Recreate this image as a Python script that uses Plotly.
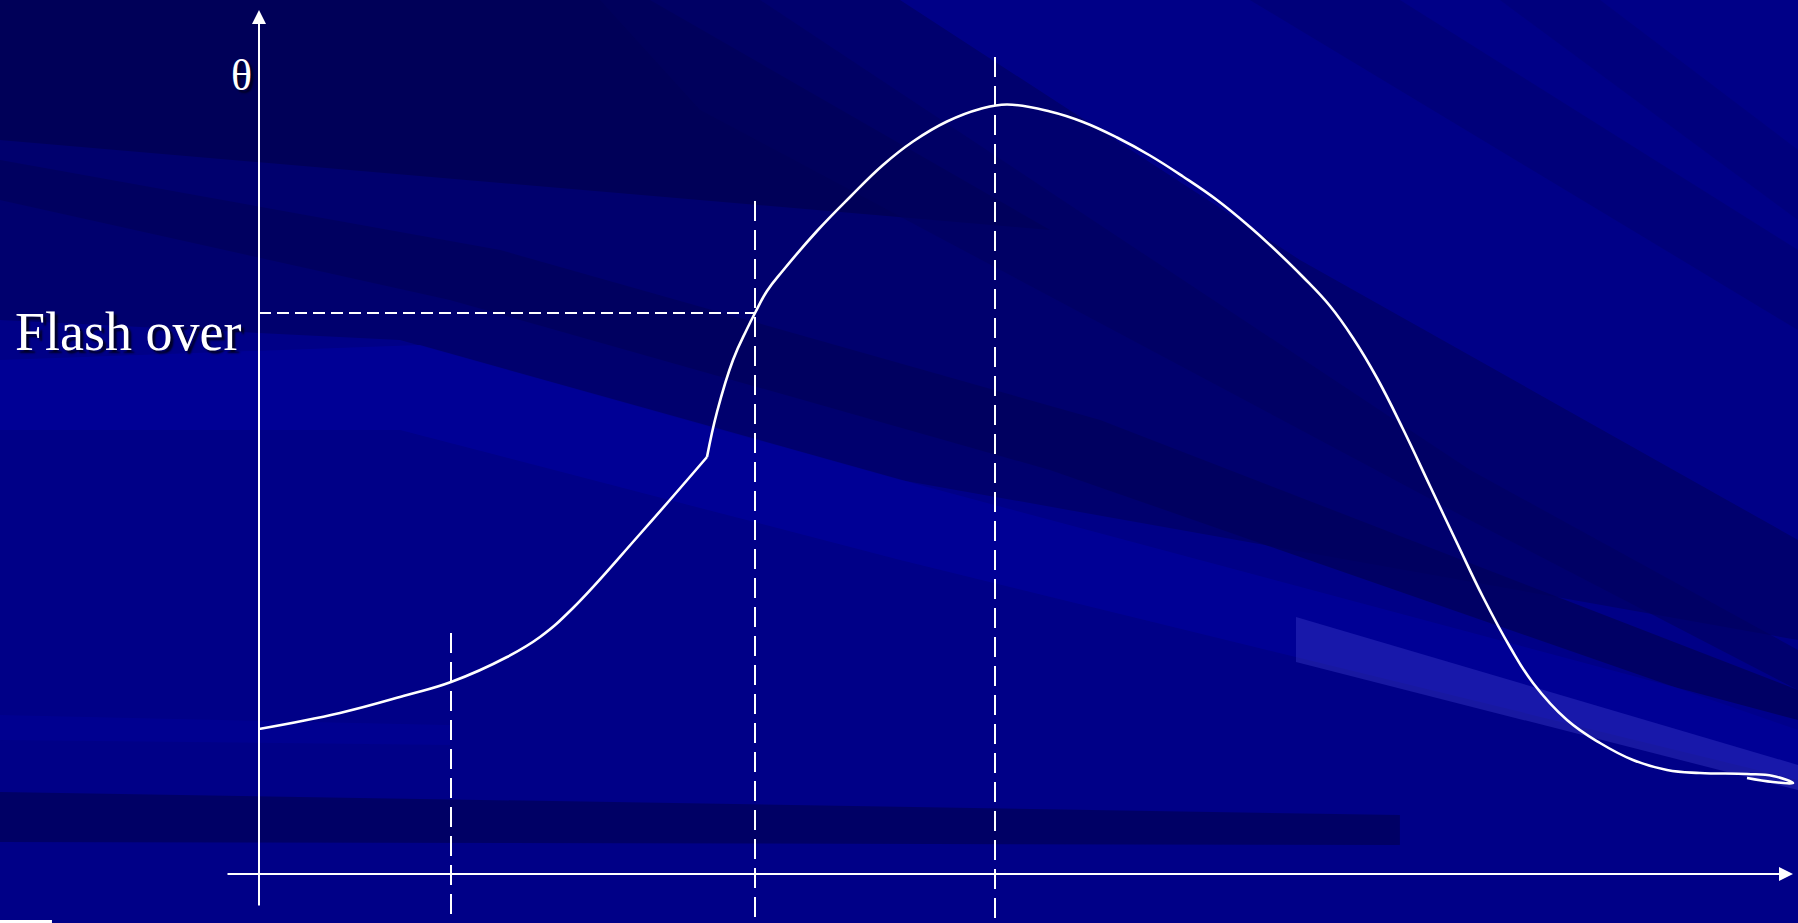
import plotly.graph_objects as go

# ---------------- data (time t, temperature theta; arbitrary units) ----------------
growth_t = [0.0, 8.1, 14.8, 19.2, 24.8, 28.1, 31.4, 38.1, 44.8]
growth_theta = [14.5, 16.1, 17.9, 19.2, 21.7, 23.7, 26.6, 34.0, 41.7]

fire_t = [44.8, 45.8, 47.4, 48.8, 49.6, 50.8, 52.4, 55.8, 59.1, 62.4, 65.4, 68.8,
          72.1, 74.8, 79.1, 82.4, 85.8, 89.1, 92.4, 95.8, 99.1, 101.1, 104.4, 107.1,
          109.4, 111.8, 114.4, 117.1, 119.8, 122.4, 125.1, 127.4, 130.8, 134.1, 137.4,
          140.8, 144.1, 148.8, 151.4, 153.4, 151.4, 148.8]
fire_theta = [41.7, 46.2, 51.4, 54.5, 56.1, 58.3, 60.35, 64.3, 67.7, 70.9, 73.25, 75.25,
              76.5, 76.95, 76.25, 75.2, 73.65, 71.85, 69.75, 67.4, 64.7, 62.9, 59.7, 56.8,
              53.6, 49.6, 44.5, 38.8, 33.1, 27.7, 22.7, 19.1, 15.4, 13.1, 11.4,
              10.4, 10.1, 10.0, 9.8, 9.1, 9.2, 9.6]

phase_t = [19.2, 49.6, 73.6]          # vertical phase boundaries
phase_top = [24.1, 67.3, 81.7]        # top of each dashed boundary
flashover_theta = 56.1                # flash-over temperature level
flashover_t = 49.6

x_range = [-25.9, 153.9]
y_range = [-4.9, 87.4]
y_axis_span = [-3.3, 86.4]
x_axis_span = [-3.3, 153.4]

W, H = 1798, 923


def px_path(pts):
    s = ""
    for i, (x, y) in enumerate(pts):
        s += ("M" if i == 0 else "L") + f"{x / W:.4f},{1 - y / H:.4f} "
    return s + "Z"


fig = go.Figure()

# ---------------- decorative slide background ----------------
bg = [
    ([(0, 0), (W, 0), (W, H), (0, H)], "rgb(0,0,135)", 1),
    ([(0, 0), (900, 0), (1300, 260), (W, 540), (W, 640), (900, 480), (400, 340), (0, 320)], "rgb(0,0,110)", 1),
    ([(0, 0), (650, 0), (1050, 230), (700, 200), (0, 140)], "rgb(0,0,88)", 1),
    ([(0, 160), (500, 250), (1100, 420), (W, 690), (W, 730), (1050, 470), (450, 300), (0, 200)], "rgb(0,0,92)", 0.8),
    ([(600, 0), (760, 0), (1470, 470), (W, 650), (W, 690), (1470, 520), (700, 110)], "rgb(0,0,95)", 0.6),
    ([(0, 360), (420, 345), (920, 485), (W, 720), (W, 780), (900, 560), (400, 430), (0, 430)], "rgb(0,0,155)", 0.7),
    ([(0, 715), (450, 725), (450, 745), (0, 740)], "rgb(0,0,150)", 0.6),
    ([(1250, 0), (1400, 0), (W, 250), (W, 330)], "rgb(0,0,110)", 0.5),
    ([(1500, 0), (1600, 0), (W, 150), (W, 220)], "rgb(0,0,115)", 0.5),
    ([(0, 792), (1400, 815), (1400, 845), (0, 842)], "rgb(0,0,98)", 0.9),
    ([(1296, 617), (W, 765), (W, 790), (1296, 662)], "rgba(70,70,210,0.35)", 1),
    ([(0, 920), (52, 920), (52, 923), (0, 923)], "white", 1),
]
for pts, col, op in bg:
    fig.add_shape(type="path", path=px_path(pts), xref="paper", yref="paper",
                  fillcolor=col, opacity=op, line=dict(width=0), layer="below")

# ---------------- guide lines ----------------
fig.add_trace(go.Scatter(x=[0, flashover_t], y=[flashover_theta, flashover_theta],
                         mode="lines", line=dict(color="white", width=2, dash="12px,6px"),
                         hoverinfo="skip", showlegend=False))
for t, top in zip(phase_t, phase_top):
    fig.add_trace(go.Scatter(x=[t, t], y=[top, y_range[0]], mode="lines",
                             line=dict(color="white", width=2, dash="20px,9px"),
                             hoverinfo="skip", showlegend=False))

# ---------------- axes (arrows) ----------------
fig.add_annotation(x=0, y=y_axis_span[1], ax=0, ay=y_axis_span[0], xref="x", yref="y",
                   axref="x", ayref="y", showarrow=True, arrowhead=2, arrowsize=1.4,
                   arrowwidth=2, arrowcolor="white", text="")
fig.add_annotation(x=x_axis_span[1], y=0, ax=x_axis_span[0], ay=0, xref="x", yref="y",
                   axref="x", ayref="y", showarrow=True, arrowhead=2, arrowsize=1.4,
                   arrowwidth=2, arrowcolor="white", text="")

# ---------------- temperature curve ----------------
fig.add_trace(go.Scatter(x=growth_t, y=growth_theta, mode="lines",
                         line=dict(color="white", width=2.6, shape="spline", smoothing=1.2),
                         hoverinfo="skip", showlegend=False))
fig.add_trace(go.Scatter(x=fire_t, y=fire_theta, mode="lines",
                         line=dict(color="white", width=2.6, shape="spline", smoothing=1.2),
                         hoverinfo="skip", showlegend=False))

# ---------------- labels ----------------
shadow = "3px 3px 2px rgba(0,0,30,0.9)"
fig.add_annotation(x=-0.5, y=79.9, xref="x", yref="y", text="θ", showarrow=False,
                   xanchor="right", yanchor="middle",
                   font=dict(family="Liberation Serif", size=44, color="white", shadow=shadow))
fig.add_annotation(x=-1.6, y=54.2, xref="x", yref="y", text="Flash over", showarrow=False,
                   xanchor="right", yanchor="middle",
                   font=dict(family="Liberation Serif", size=54, color="white", shadow=shadow))

fig.update_layout(
    width=W, height=H, margin=dict(l=0, r=0, t=0, b=0),
    paper_bgcolor="rgb(0,0,128)", plot_bgcolor="rgba(0,0,0,0)",
    xaxis=dict(range=x_range, visible=False, fixedrange=True),
    yaxis=dict(range=y_range, visible=False, fixedrange=True),
    showlegend=False,
)

fig.write_html("out.html", config={"displayModeBar": False},
               post_script="document.body.style.margin='0';document.body.style.overflow='hidden';")
